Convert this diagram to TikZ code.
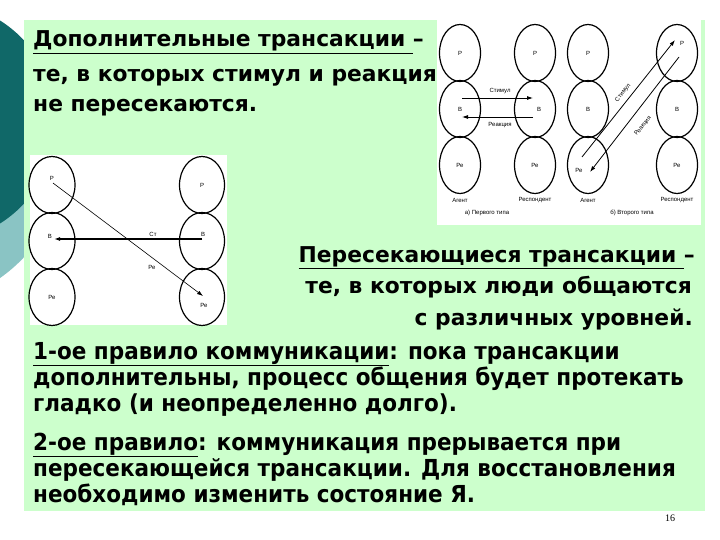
\documentclass[tikz,border=0pt]{standalone}
\usepackage{fontspec}
\setmainfont{DejaVu Sans}
\newfontfamily\bodyfont[FakeStretch=0.92]{DejaVu Sans}
\newfontfamily\smallfont{Liberation Sans}
\newfontfamily\numfont{Liberation Serif}
\usetikzlibrary{shapes.geometric,arrows.meta}
\definecolor{panelgreen}{RGB}{204,255,204}
\definecolor{tealdark}{RGB}{16,104,104}
\definecolor{teallight}{RGB}{138,196,196}
\tikzset{
  headtxt/.style={inner sep=0pt, font=\bfseries\fontsize{21.8}{25}\selectfont},
  bodytxt/.style={inner sep=0pt, anchor=base west, font=\bodyfont\bfseries\fontsize{23.4}{26}\selectfont},
  lvl/.style={ellipse, draw, line width=1.2pt, minimum width=41pt, minimum height=57pt, inner sep=0pt, font=\smallfont\fontsize{6}{6}\selectfont},
  lvlb/.style={lvl, minimum width=46pt},
  tiny/.style={inner sep=0pt, font=\smallfont\fontsize{6}{6}\selectfont},
  arr/.style={-{Latex[length=6pt,width=4pt]}, line width=0.8pt},
}
\begin{document}
\begin{tikzpicture}[x=1pt,y=-1pt]
\useasboundingbox (0,0) rectangle (720,540);
\clip (0,0) rectangle (720,540);
\fill[white] (0,0) rectangle (720,540);
% decorative teal shapes
\fill[teallight] (-90,150) circle (156.5pt);
\fill[tealdark] (-64,122) circle (120pt);
% green panel
\fill[panelgreen] (24,20) rectangle (705,511);
% picture backgrounds
\fill[white] (437,20) rectangle (701,225);
\fill[white] (30,155) rectangle (227,325);

% ---------- top text ----------
\node[headtxt, anchor=base west] (t1) at (33,47) {\underline{Дополнительные трансакции\ }–};
\node[headtxt, anchor=base west] (t2) at (33,82) {те, в которых стимул и реакция};
\node[headtxt, anchor=base west] (t3) at (33,112) {не пересекаются.};

% ---------- right text ----------
\node[headtxt, anchor=base east] (r1) at (695,262) {\underline{Пересекающиеся трансакции\ }–};
\node[headtxt, anchor=base east] (r2) at (692,293) {те, в которых люди общаются};
\node[headtxt, anchor=base east] (r3) at (693,325) {с различных уровней.};

% ---------- bottom text ----------
\node[bodytxt] (b1) at (33,359) {\underline{1-ое правило коммуникации}: пока трансакции};
\node[bodytxt] (b2) at (33,385) {дополнительны, процесс общения будет протекать};
\node[bodytxt] (b3) at (33,411) {гладко (и неопределенно долго).};
\node[bodytxt] (b4) at (33,450) {\underline{2-ое правило}: коммуникация прерывается при};
\node[bodytxt] (b5) at (33,476) {пересекающейся трансакции. Для восстановления};
\node[bodytxt] (b6) at (33,502) {необходимо изменить состояние Я.};

\node[inner sep=0pt, font=\numfont\fontsize{10}{10}\selectfont] (pn) at (670,518) {16};

% ---------- top-right diagram ----------
\node[lvl] (aP) at (460,53) {Р};
\node[lvl] (aB) at (460,109) {В};
\node[lvl] (aR) at (460,165) {Ре};
\node[lvl] (rP) at (535,53) {Р};
\node[lvl] (rB) at (535,109) {};
\node[lvl] (rR) at (535,165) {Ре};
\node[lvl] (cP) at (588,53) {Р};
\node[lvl] (cB) at (588,109) {В};
\node[lvl] (cR) at (588,165) {};
\node[lvl] (dP) at (677,53) {};
\node[lvl] (dB) at (677,109) {В};
\node[lvl] (dR) at (677,165) {Ре};
\node[tiny] (rBl) at (539,109) {В};
\node[tiny] (cRl) at (579,170) {Ре};
\node[tiny] (dPl) at (682,43) {Р};

\coordinate (s1a) at (462,98);
\coordinate (s1b) at (533,98);
\coordinate (r1a) at (533,117);
\coordinate (r1b) at (462,117);
\draw[arr] (s1a) -- (s1b);
\draw[arr] (r1a) -- (r1b);
\node[tiny] (stA) at (500,91) {Стимул};
\node[tiny] (reA) at (500,125) {Реакция};

\coordinate (s2a) at (582,157);
\coordinate (s2b) at (675,40);
\coordinate (r2a) at (679,57);
\coordinate (r2b) at (590,172);
\draw[arr] (s2a) -- (s2b);
\draw[arr] (r2a) -- (r2b);
\node[tiny, rotate=51.5] (stB) at (623,93) {Стимул};
\node[tiny, rotate=51.5] (reB) at (643,126) {Реакция};

\node[tiny] (ag1) at (460,200) {Агент};
\node[tiny] (rs1) at (535,200) {Респондент};
\node[tiny] (ag2) at (588,200) {Агент};
\node[tiny] (rs2) at (677,200) {Респондент};
\node[tiny] (capA) at (487,213) {а) Первого типа};
\node[tiny] (capB) at (632,213) {б) Второго типа};

% ---------- left diagram ----------
\node[lvlb] (lP) at (52,185) {};
\node[lvlb] (lB) at (52,241) {};
\node[lvlb] (lR) at (52,297) {Ре};
\node[lvl, minimum width=45pt] (mP) at (202,185) {Р};
\node[lvl, minimum width=45pt] (mB) at (202,241) {};
\node[lvl, minimum width=45pt] (mR) at (202,297) {};
\node[tiny] (lPl) at (52,178) {Р};
\node[tiny] (lBl) at (50,236) {В};
\node[tiny] (mBl) at (203,234) {В};
\node[tiny] (mRl) at (204,305) {Ре};

\coordinate (x1a) at (53,183);
\coordinate (x1b) at (203,296);
\coordinate (x2a) at (202,239);
\coordinate (x2b) at (54,239);
\draw[arr, line width=0.6pt] (x1a) -- (x1b);
\draw[arr, line width=1.2pt] (x2a) -- (x2b);
\node[tiny] (stL) at (153,234) {Ст};
\node[tiny] (reL) at (152,267) {Ре};
\end{tikzpicture}
\end{document}
